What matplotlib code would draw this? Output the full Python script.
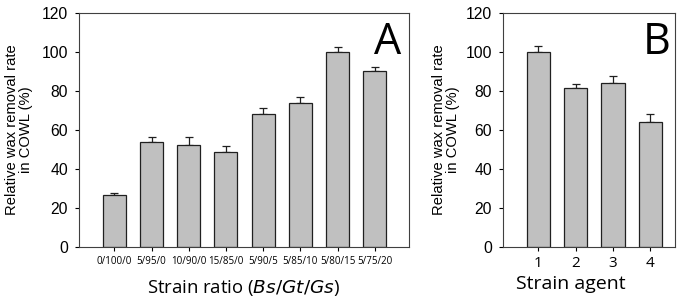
import matplotlib
matplotlib.use("Agg")
import matplotlib.pyplot as plt
import numpy as np

ratio_labels = ["0/100/0", "5/95/0", "10/90/0", "15/85/0", "5/90/5", "5/85/10", "5/80/15", "5/75/20"]
ratio_values = [26.7, 54.0, 52.1, 48.9, 68.3, 74.0, 100.0, 90.2]
ratio_errors = [1.0, 2.2, 4.1, 3.1, 3.0, 3.1, 2.5, 1.9]

agent_labels = ["1", "2", "3", "4"]
agent_values = [100.0, 81.6, 84.0, 63.9]
agent_errors = [2.8, 2.1, 3.8, 4.1]

yticks = [0, 20, 40, 60, 80, 100, 120]

W, H = 685, 301
fig = plt.figure(figsize=(W / 100, H / 100), dpi=100)

sans = ["Liberation Sans", "DejaVu Sans"]
segoe = ["Open Sans", "DejaVu Sans"]

def panel(rect, labels, values, errors, xlim, tick_fs, xlabel, xlabel_fs, letter):
    ax = fig.add_axes(rect)
    x = np.arange(len(values))
    ax.bar(x, values, width=0.62, color="#c0c0c0", edgecolor="#202020", linewidth=0.9, zorder=2)
    ax.errorbar(x, values, yerr=[np.zeros(len(errors)), errors], fmt="none",
                ecolor="#202020", elinewidth=0.9, capsize=2.6, capthick=0.9, zorder=1)
    ax.set_xlim(*xlim)
    ax.set_ylim(0, 120)
    ax.set_yticks(yticks)
    ax.set_yticklabels([str(v) for v in yticks], fontsize=11.3, family=sans)
    ax.set_xticks(x)
    ax.set_xticklabels(labels, fontsize=tick_fs, family=segoe)
    ax.tick_params(axis="y", direction="out", length=3, width=0.8, pad=5)
    ax.tick_params(axis="x", direction="out", length=3, width=0.8, pad=3)
    for s in ax.spines.values():
        s.set_linewidth(0.8)
        s.set_color("#404040")
    ax.set_ylabel("Relative wax removal rate\nin COWL (%)", fontsize=10.6, family=sans,
                  linespacing=1.0)
    ax.set_xlabel(xlabel, fontsize=xlabel_fs, family=segoe)
    ax.text(0.975, 0.965, letter, transform=ax.transAxes, ha="right", va="top",
            fontsize=31, family=segoe)
    return ax

axA = panel([79 / W, 53.7 / H, 330 / W, 234.6 / H], ratio_labels, ratio_values, ratio_errors,
            (-0.95, 7.92), 7.0, "Strain ratio ($\\it{Bs/Gt/Gs}$)", 13.3, "A")
axA.yaxis.set_label_coords(-46 / 330, 0.5)
axA.xaxis.set_label_coords(0.5, -31 / 234.6)

axB = panel([503 / W, 53.7 / H, 172 / W, 234.6 / H], agent_labels, agent_values, agent_errors,
            (-0.95, 3.66), 11.0, "Strain agent", 14, "B")
axB.yaxis.set_label_coords(-43 / 172, 0.5)
axB.xaxis.set_label_coords((571 - 503) / 172, -28 / 234.6)

fig.savefig("out.png", dpi=100)
